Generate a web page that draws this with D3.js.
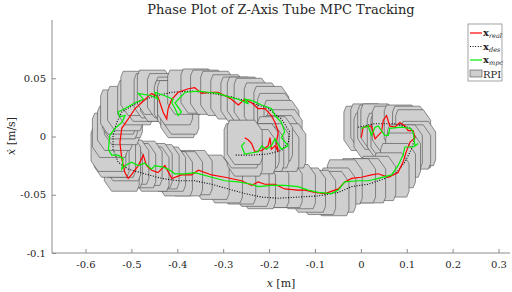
<!DOCTYPE html>
<html>
<head>
<meta charset="UTF-8">
<script src="https://d3js.org/d3.v7.min.js"></script>
<style>
  body { margin: 0; background: #fff; }
  svg text { font-family: "DejaVu Serif", serif; fill: #262626; }
</style>
</head>
<body>
<div id="chart"></div>
<script>
// phase plane points [x (m), xdot (m/s)], in time order
const mpcPts = [
  [0.001, 0.007], [0.016, 0.009], [0.023, 0.001], [0.031, 0.008], [0.038, 0.009],
  [0.052, 0.001], [0.060, 0.001], [0.063, 0.007], [0.089, 0.008], [0.107, 0.007],
  [0.114, 0.004], [0.118, -0.008], [0.125, -0.006], [0.114, -0.009], [0.096, -0.009],
  [0.092, -0.016], [0.081, -0.025], [0.067, -0.033], [0.038, -0.036], [0.016, -0.038],
  [-0.006, -0.038], [-0.035, -0.039], [-0.049, -0.046], [-0.064, -0.049], [-0.093, -0.048],
  [-0.115, -0.046], [-0.137, -0.043], [-0.166, -0.042], [-0.195, -0.042], [-0.224, -0.043],
  [-0.238, -0.041], [-0.267, -0.039], [-0.296, -0.038], [-0.325, -0.035], [-0.362, -0.031],
  [-0.383, -0.032], [-0.405, -0.032], [-0.420, -0.028], [-0.434, -0.026], [-0.449, -0.025],
  [-0.456, -0.028], [-0.471, -0.023], [-0.485, -0.025], [-0.500, -0.022], [-0.514, -0.025],
  [-0.521, -0.028], [-0.518, -0.019], [-0.529, -0.016], [-0.543, -0.016], [-0.550, -0.011],
  [-0.547, 0.001], [-0.536, 0.007], [-0.521, 0.012], [-0.514, 0.018], [-0.525, 0.017],
  [-0.529, 0.021], [-0.514, 0.024], [-0.492, 0.029], [-0.474, 0.032], [-0.485, 0.037],
  [-0.456, 0.035], [-0.442, 0.032], [-0.449, 0.038], [-0.427, 0.035], [-0.409, 0.032],
  [-0.412, 0.029], [-0.405, 0.024], [-0.398, 0.018], [-0.391, 0.021], [-0.405, 0.029],
  [-0.383, 0.038], [-0.354, 0.039], [-0.333, 0.038], [-0.311, 0.037], [-0.289, 0.034],
  [-0.267, 0.032], [-0.245, 0.028], [-0.253, 0.032], [-0.238, 0.031], [-0.216, 0.027],
  [-0.195, 0.024], [-0.187, 0.018], [-0.173, 0.012], [-0.166, 0.004], [-0.173, -0.001],
  [-0.158, -0.008], [-0.173, -0.011], [-0.187, -0.002], [-0.195, -0.008], [-0.206, -0.011],
  [-0.216, -0.008], [-0.224, -0.013], [-0.253, -0.015], [-0.260, -0.008], [-0.253, -0.005]
];

const realPts = [
  [0.001, -0.001], [0.005, 0.008], [0.023, 0.009], [0.031, -0.002], [0.045, 0.004],
  [0.049, 0.014], [0.056, 0.018], [0.063, 0.009], [0.074, 0.008], [0.085, 0.012],
  [0.096, 0.009], [0.103, 0.005], [0.114, 0.005], [0.118, -0.001], [0.107, -0.005],
  [0.099, -0.013], [0.092, -0.022], [0.081, -0.031], [0.060, -0.035], [0.038, -0.032],
  [0.023, -0.033], [0.001, -0.035], [-0.020, -0.036], [-0.035, -0.039], [-0.049, -0.045],
  [-0.078, -0.049], [-0.100, -0.048], [-0.122, -0.046], [-0.137, -0.046], [-0.166, -0.045],
  [-0.187, -0.041], [-0.209, -0.041], [-0.224, -0.039], [-0.238, -0.042], [-0.260, -0.038],
  [-0.296, -0.035], [-0.325, -0.033], [-0.354, -0.029], [-0.369, -0.033], [-0.391, -0.033],
  [-0.412, -0.036], [-0.427, -0.025], [-0.442, -0.031], [-0.456, -0.029], [-0.467, -0.025],
  [-0.474, -0.016], [-0.485, -0.025], [-0.500, -0.033], [-0.507, -0.036], [-0.514, -0.031],
  [-0.521, -0.019], [-0.525, -0.005], [-0.521, 0.007], [-0.507, 0.015], [-0.492, 0.024],
  [-0.478, 0.029], [-0.456, 0.037], [-0.442, 0.034], [-0.431, 0.021], [-0.423, 0.015],
  [-0.420, 0.024], [-0.412, 0.032], [-0.398, 0.038], [-0.376, 0.041], [-0.362, 0.042],
  [-0.347, 0.037], [-0.325, 0.038], [-0.311, 0.038], [-0.296, 0.035], [-0.282, 0.032],
  [-0.267, 0.027], [-0.253, 0.032], [-0.238, 0.029], [-0.224, 0.024], [-0.209, 0.024],
  [-0.195, 0.018], [-0.187, 0.012], [-0.180, 0.004], [-0.184, -0.005], [-0.180, -0.013],
  [-0.187, -0.008], [-0.195, -0.011], [-0.198, -0.001], [-0.202, -0.008], [-0.216, -0.012],
  [-0.231, -0.013], [-0.238, -0.006], [-0.245, -0.003], [-0.253, -0.001]
];

const desPts = [
  [-0.006, 0.008], [0.031, 0.011], [0.074, 0.011], [0.110, 0.007], [0.118, -0.001],
  [0.110, -0.011], [0.096, -0.022], [0.078, -0.031], [0.052, -0.036], [0.016, -0.041],
  [-0.020, -0.043], [-0.049, -0.048], [-0.093, -0.051], [-0.137, -0.052], [-0.180, -0.053],
  [-0.216, -0.052], [-0.253, -0.049], [-0.289, -0.045], [-0.325, -0.041], [-0.362, -0.038],
  [-0.398, -0.038], [-0.434, -0.036], [-0.471, -0.032], [-0.507, -0.028], [-0.529, -0.022],
  [-0.540, -0.011], [-0.540, 0.001], [-0.532, 0.012], [-0.521, 0.021], [-0.492, 0.028],
  [-0.456, 0.034], [-0.412, 0.038], [-0.369, 0.039], [-0.325, 0.037], [-0.282, 0.034],
  [-0.238, 0.029], [-0.202, 0.024], [-0.173, 0.015], [-0.155, 0.004], [-0.158, -0.005],
  [-0.173, -0.012], [-0.202, -0.015], [-0.238, -0.016], [-0.275, -0.016]
];

// RPI set vertices relative to the nominal state
const rpiShape = [
  [-0.033, 0.019], [0.022, 0.019], [0.038, 0.010], [0.038, -0.014],
  [0.033, -0.019], [-0.022, -0.019], [-0.038, -0.010], [-0.038, 0.014]
];

const xTicks = [-0.6, -0.5, -0.4, -0.3, -0.2, -0.1, 0, 0.1, 0.2, 0.3];
const yTicks = [-0.1, -0.05, 0, 0.05];

const W = 512, H = 292;
const svg = d3.select("#chart").append("svg")
  .attr("width", W).attr("height", H);

const x = d3.scaleLinear().domain([-0.673, 0.325]).range([52, 510]);
const y = d3.scaleLinear().domain([-0.1, 0.1]).range([253, 20]);

// tube polygons
const poly = svg.append("g");
mpcPts.forEach(c => {
  poly.append("polygon")
    .attr("points", rpiShape.map(([dx, dv]) => [x(c[0] + dx), y(c[1] + dv)].join(",")).join(" "))
    .attr("fill", "#cfcfcf")
    .attr("stroke", "#4a4a4a")
    .attr("stroke-width", 0.6);
});

const line = d3.line().x(d => x(d[0])).y(d => y(d[1]));

svg.append("path").datum(desPts).attr("d", line)
  .attr("fill", "none").attr("stroke", "#000").attr("stroke-width", 1.1)
  .attr("stroke-dasharray", "1,1.6");
svg.append("path").datum(realPts).attr("d", line)
  .attr("fill", "none").attr("stroke", "#ff0000").attr("stroke-width", 1.2);
svg.append("path").datum(mpcPts).attr("d", line)
  .attr("fill", "none").attr("stroke", "#00ee00").attr("stroke-width", 1.2);

// tick labels with a plain hyphen as the minus sign
const fmtX = d => d === 0 ? "0" : d.toFixed(1);
const fmtY = d => d === 0 ? "0" : (Math.abs(d) === 0.1 ? d.toFixed(1) : d.toFixed(2));

// axes
const gx = svg.append("g").attr("transform", "translate(0,253)")
  .call(d3.axisBottom(x).tickValues(xTicks).tickSizeInner(-4).tickSizeOuter(0)
    .tickPadding(8).tickFormat(fmtX));
const gy = svg.append("g").attr("transform", "translate(52,0)")
  .call(d3.axisLeft(y).tickValues(yTicks).tickSizeInner(-4).tickSizeOuter(0)
    .tickPadding(6).tickFormat(fmtY));
[gx, gy].forEach(g => {
  g.select(".domain").attr("stroke", "#8c8c8c");
  g.selectAll(".tick line").attr("stroke", "#8c8c8c");
  g.selectAll(".tick text").style("font-size", "10px").style("font-family", "DejaVu Serif, serif").attr("fill", "#262626");
});
gx.select(".domain").attr("d", `M${x.range()[0]},0H${x.range()[1]}`);
gy.select(".domain").attr("d", `M0,${y.range()[0]}V${y.range()[1]}`);

// title and labels
svg.append("text").attr("x", 281).attr("y", 14).attr("text-anchor", "middle")
  .style("font-size", "13px").text("Phase Plot of Z-Axis Tube MPC Tracking");

const xl = svg.append("text").attr("x", 281).attr("y", 287).attr("text-anchor", "middle")
  .style("font-size", "11px");
xl.append("tspan").style("font-style", "italic").text("x");
xl.append("tspan").text(" [m]");

const yl = svg.append("text").attr("transform", "translate(15,136) rotate(-90)")
  .attr("text-anchor", "middle").style("font-size", "11px");
yl.append("tspan").style("font-style", "italic").text("ẋ");
yl.append("tspan").text(" [m/s]");

// legend
const leg = svg.append("g");
leg.append("rect").attr("x", 468).attr("y", 24).attr("width", 34).attr("height", 57)
  .attr("fill", "#fff").attr("stroke", "#8c8c8c").attr("stroke-width", 0.8);
const legItems = [
  { sub: "real", color: "#ff0000", dash: null },
  { sub: "des", color: "#000", dash: "1,1.6" },
  { sub: "mpc", color: "#00ee00", dash: null }
];
legItems.forEach((it, i) => {
  const yy = 33 + i * 13.5;
  leg.append("line").attr("x1", 470).attr("x2", 482).attr("y1", yy).attr("y2", yy)
    .attr("stroke", it.color).attr("stroke-width", 1.2)
    .attr("stroke-dasharray", it.dash);
  const t = leg.append("text").attr("x", 483).attr("y", yy + 3).style("font-size", "10px");
  t.append("tspan").style("font-weight", "bold").text("x");
  t.append("tspan").attr("dy", 2).style("font-size", "6.5px").style("font-style", "italic").text(it.sub);
});
leg.append("rect").attr("x", 470).attr("y", 70).attr("width", 12).attr("height", 7)
  .attr("fill", "#cfcfcf").attr("stroke", "#4a4a4a").attr("stroke-width", 0.6);
leg.append("text").attr("x", 483).attr("y", 77.5).style("font-size", "10px").text("RPI");
</script>
</body>
</html>
